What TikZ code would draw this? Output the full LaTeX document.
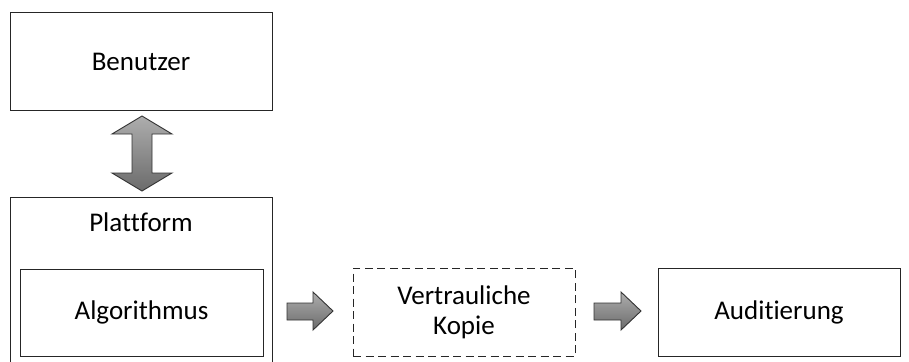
\documentclass[tikz,border=0pt]{standalone}
\usepackage{fontspec}
\setmainfont[Ligatures=CommonOff]{Carlito}
\begin{document}
\begin{tikzpicture}[x=1pt,y=-1pt,
  box/.style={draw=black!85,line width=1pt,inner sep=0pt},
  lbl/.style={font=\fontsize{27}{30}\selectfont,text=black,align=center},
  blockarrow/.style={draw=black!80,line width=0.9pt,top color=black!32,bottom color=black!58,line join=miter}]
  \clip (0,0) rectangle (909,361);
  \fill[white] (0,0) rectangle (909,361);

  % user box
  \node[box,minimum width=262pt,minimum height=97pt] (user) at (141,61.5) {};
  \node[lbl] (usertxt) at (user.center) {Benutzer};

  % platform with the algorithm inside
  \node[box,minimum width=262pt,minimum height=170pt] (plat) at (141,282) {};
  \node[lbl] (plattxt) at (141,222) {Plattform};
  \node[box,minimum width=243pt,minimum height=87pt] (algo) at (141.5,312.5) {};
  \node[lbl] (algotxt) at (algo.center) {Algorithmus};

  % confidential copy
  \node[box,dash pattern=on 8pt off 4.5pt,minimum width=222pt,minimum height=88pt] (copy) at (464,312) {};
  \node[lbl] (copytxt) at (copy.center) {Vertrauliche\\Kopie};

  % audit
  \node[box,minimum width=242pt,minimum height=88pt] (audit) at (779,312) {};
  \node[lbl] (audittxt) at (audit.center) {Auditierung};

  % two-way arrow between user and platform
  \draw[blockarrow]
    (142,116) -- (172,134) -- (152,134) -- (152,173) -- (172,173) -- (142,191)
    -- (112,173) -- (132,173) -- (132,134) -- (112,134) -- cycle;

  % platform -> copy
  \draw[blockarrow]
    (287,303) -- (313,303) -- (313,292) -- (333,311) -- (313,330) -- (313,320) -- (287,320) -- cycle;

  % copy -> audit
  \draw[blockarrow]
    (594,303) -- (621,303) -- (621,292) -- (641,311) -- (621,330) -- (621,320) -- (594,320) -- cycle;
\end{tikzpicture}
\end{document}
